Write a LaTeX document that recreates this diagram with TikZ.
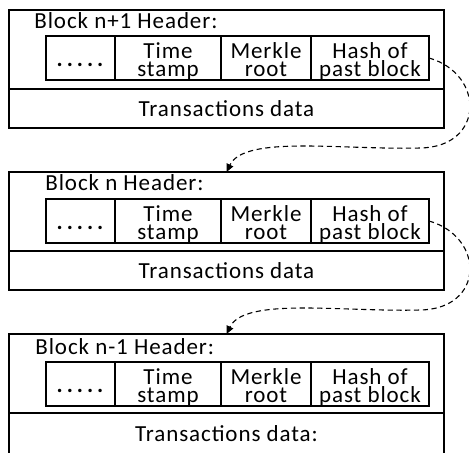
\documentclass[tikz,border=0pt]{standalone}
\usepackage{fontspec}
\setmainfont{Carlito}[LetterSpace=4]
\usetikzlibrary{arrows.meta, positioning, calc}
\newcommand{\tightlines}{\lineskiplimit=-20pt\relax}
\newcommand{\fdots}{\rule{0pt}{11pt}\textbf{.\hspace{2pt}.\hspace{2pt}.\hspace{2pt}.\hspace{2pt}.}\rule[-3pt]{0pt}{3pt}}
\newcommand{\ftwo}[2]{\rule{0pt}{11pt}#1\\#2\rule[-2pt]{0pt}{2pt}}

\begin{document}
\begin{tikzpicture}[
    x=0.5pt, y=-0.5pt,
    font=\fontsize{11.5}{9}\selectfont\tightlines,
    >={Triangle[length=4pt,width=3.6pt]},
    every node/.style={inner sep=0pt},
    blk/.style={draw=black, line width=0.7pt, outer sep=0pt,
                minimum width=217.5pt, minimum height=59pt, anchor=north west},
    txrow/.style={draw=black, line width=0.7pt, outer sep=0pt,
                  minimum width=217.5pt, minimum height=19.5pt, anchor=south},
    field/.style={draw=black, line width=0.7pt, outer sep=0pt,
                  minimum height=22pt, align=center},
    hdr/.style={anchor=base west},
    link/.style={->, line width=0.55pt, dash pattern=on 2.6pt off 1.8pt}
  ]
  \useasboundingbox (0,0) rectangle (469,452);

  % ===== BLOCK N+1 =====
  \node[blk] (blkA) at (9,10) {};
  \node[txrow] (txA) at (blkA.south) {Transactions data};
  \node[hdr] (hA) at (34,28.7) {Block n+1 Header:};
  \node[field, minimum width=34.5pt, anchor=north west] (fA1) at (46,36) {\fdots};
  \node[field, minimum width=53pt, right=0pt of fA1] (fA2) {\ftwo{Time}{stamp}};
  \node[field, minimum width=45pt, right=0pt of fA2] (fA3) {\ftwo{Merkle}{root}};
  \node[field, minimum width=59pt, right=0pt of fA3] (fA4) {\ftwo{Hash of}{past block}};

  % ===== BLOCK N =====
  \node[blk] (blkB) at (9,172) {};
  \node[txrow] (txB) at (blkB.south) {Transactions data};
  \node[hdr] (hB) at (45,190.7) {Block n Header:};
  \node[field, minimum width=34.5pt, anchor=north west] (fB1) at (46,199) {\fdots};
  \node[field, minimum width=53pt, right=0pt of fB1] (fB2) {\ftwo{Time}{stamp}};
  \node[field, minimum width=45pt, right=0pt of fB2] (fB3) {\ftwo{Merkle}{root}};
  \node[field, minimum width=59pt, right=0pt of fB3] (fB4) {\ftwo{Hash of}{past block}};

  % ===== BLOCK N-1 (cut at the bottom) =====
  \node[blk, minimum height=60pt] (blkC) at (9,334) {};
  \node[txrow, minimum height=20.5pt] (txC) at (blkC.south) {Transactions data:};
  \node[hdr] (hC) at (35,354) {Block n-1 Header:};
  \node[field, minimum width=34.5pt, anchor=north west] (fC1) at (46,362) {\fdots};
  \node[field, minimum width=53pt, right=0pt of fC1] (fC2) {\ftwo{Time}{stamp}};
  \node[field, minimum width=45pt, right=0pt of fC2] (fC3) {\ftwo{Merkle}{root}};
  \node[field, minimum width=59pt, right=0pt of fC3] (fC4) {\ftwo{Hash of}{past block}};

  % ===== HASH LINKS =====
  \coordinate (bendA) at (420,148);
  \coordinate (bendB) at (420,310);
  \draw[link] (fA4.east) .. controls +(56,16) and +(65,-1) .. (bendA)
    .. controls +(-80,2) and +(18,-37) .. (blkB.north);
  \draw[link] (fB4.east) .. controls +(56,16) and +(65,-1) .. (bendB)
    .. controls +(-80,2) and +(18,-37) .. (blkC.north);

\end{tikzpicture}
\end{document}
